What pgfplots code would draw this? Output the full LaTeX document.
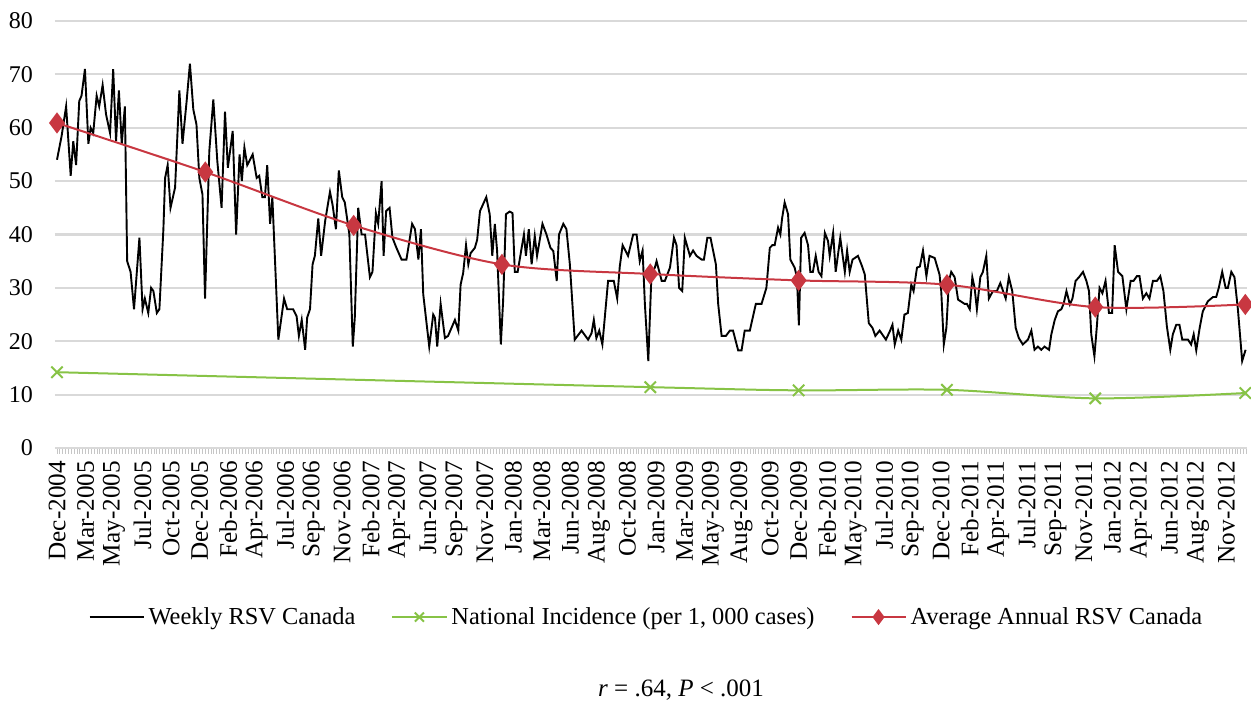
\documentclass[border=0pt]{standalone}
\usepackage{fontspec}
\setmainfont{Liberation Serif}
\usepackage{pgfplots}
\pgfplotsset{compat=1.18}
\definecolor{myred}{RGB}{200,55,65}
\definecolor{mygreen}{RGB}{135,195,70}
\definecolor{gridgray}{RGB}{217,217,217}
\begin{document}
\begin{tikzpicture}
\path[use as bounding box] (-27.5pt,-128.5pt) rectangle (598pt,224pt);
\begin{axis}[
  scale only axis,
  width=596pt, height=213.5pt,
  xmin=-0.7, xmax=417.2,
  ymin=0, ymax=80,
  ytick={0,10,...,80},
  ymajorgrids,
  grid style={draw=gridgray, line width=1.1pt},
  axis x line*=bottom, axis y line*=left,
  x axis line style={draw=gridgray, line width=1.1pt},
  y axis line style={draw=none},
  ytick style={draw=none},
  xtick={0,10,...,410},
  minor xtick={0,1,...,417},
  xtick style={draw=gray!45, line width=0.4pt},
  minor tick style={draw=gray!45, line width=0.4pt},
  tick align=outside,
  major tick length=3pt, minor tick length=3pt,
  xticklabels={Dec-2004,Mar-2005,May-2005,Jul-2005,Oct-2005,Dec-2005,Feb-2006,Apr-2006,Jul-2006,Sep-2006,Nov-2006,Feb-2007,Apr-2007,Jun-2007,Sep-2007,Nov-2007,Jan-2008,Mar-2008,Jun-2008,Aug-2008,Oct-2008,Jan-2009,Mar-2009,May-2009,Aug-2009,Oct-2009,Dec-2009,Feb-2010,May-2010,Jul-2010,Sep-2010,Dec-2010,Feb-2011,Apr-2011,Jul-2011,Sep-2011,Nov-2011,Jan-2012,Apr-2012,Jun-2012,Aug-2012,Nov-2012},
  xticklabel style={rotate=90, anchor=east, font=\fontsize{12.6}{14}\selectfont},
  yticklabel style={font=\fontsize{12}{14}\selectfont, xshift=-4.5pt},
  /pgf/number format/assume math mode=true,
  legend columns=3,
  legend cell align=left,
  legend style={at={(0.497,-0.396)}, anchor=center, draw=none, font=\fontsize{12.2}{14}\selectfont,
    /tikz/every even column/.append style={column sep=16pt}},
  legend image code/.code={\draw[mark repeat=2,mark phase=2,mark size=3.2pt] plot coordinates {(0pt,0pt) (13.5pt,0pt) (27pt,0pt)};},
  clip=false,
]
\addplot[black, line width=0.95pt] coordinates {
(0,54) (1.6,58.4) (3.2,64) (4.8,51) (5.7,57.5) (6.7,53) (7.8,65) (8.6,66) (9.8,71) (11,57) (11.8,60) (12.7,59) (13.9,66) (14.8,64) (16,68) (17.2,62.5) (18.6,59) (19.7,71) (20.7,57.5) (21.7,67) (22.7,57) (23.8,64) (24.6,35) (25.8,33) (27,26) (28.9,39.4) (30,26) (30.8,28) (32,25.3) (33,30) (33.8,29.4) (35,25.3) (35.9,26) (37.3,41) (37.9,50.6) (38.8,53) (39.8,45) (41.4,48.8) (42.9,67) (44,57) (45.4,64.7) (46.6,72) (47.8,63.4) (48.9,60.6) (49.9,50.6) (51,47.5) (51.9,28) (53.4,55.6) (54.8,65.3)
(56.2,53.8) (57.7,45) (58.9,63) (59.9,52.5) (61.6,59.4) (62.8,40) (64,55) (64.8,50) (65.7,56.3) (66.7,53) (68.6,55) (70,50.6) (70.9,51) (72,47) (72.9,47) (73.7,53) (74.7,42) (75.5,47) (77.6,20.3) (79.6,28) (80.7,26) (82.8,26) (84,24.7) (84.8,21) (85.8,24) (87,18.4) (87.7,24.4) (88.7,26) (89.6,34.4) (90.4,36) (91.6,43) (92.6,36) (94,42.5) (95.7,48) (96.6,45.6) (97.8,41) (98.8,52) (100,47) (100.9,46) (102.5,40) (103.7,19) (104.4,24.4) (105.6,45) (106.8,40) (108,40) (109.7,32) (110.6,33) (111.8,44) (112.6,42) (113.8,50) (114.5,36) (115.4,44.4) (116.6,45)
(117.6,39.4) (119,37.5) (120.8,35.3) (122.5,35.3) (124.5,42) (125.5,41) (126.7,35.3) (127.6,41) (128.4,28.8) (130.5,19) (131.9,25) (132.5,24.4) (133.3,19) (134.5,27) (136,20.6) (137.1,21) (138.3,22.5) (139.5,24) (140.7,22) (141.5,30.6) (142.4,32.8) (143.4,38) (144.2,34.4) (145,36.5) (146.5,37.5) (147.3,39) (148.3,44.4) (150.5,47) (151.7,43.8) (152.6,36) (153.5,42) (154.3,36.9) (155.6,19.4) (156.4,27.5) (157.4,43.8) (158.7,44.3) (159.7,44) (160.5,33) (161.5,33) (162.9,37.5) (163.7,40) (164.4,36) (165.4,41) (166.4,34.4) (167.5,39.7) (168.3,36) (170.2,42) (171.6,40) (173,37.5) (174,36.9) (175.2,31.3)
(176,40) (177.5,42) (178.6,41) (179.8,34.4) (181.5,20.3) (183.9,22) (186.2,20.3) (187.4,21.5) (188.2,24) (189.1,20.6) (190.1,22) (191.2,19.4) (193.2,31.3) (195.2,31.3) (196.4,28) (197.3,34) (198.3,38) (200.2,36) (202,40) (203.2,40) (204.3,35) (205.3,37) (206.1,27) (207.3,16.3) (208.4,32.5) (209.6,33.8) (210.2,35) (212,31.3) (213.1,31.3) (214.9,33.8) (216.3,39.4) (217.2,38) (218.1,30) (219.2,29.4) (220.1,39.4) (221.9,36) (223,37) (224.2,36) (226,35.3) (226.8,35.3) (228,39.4) (229.1,39.4) (231,34.4) (231.8,27) (233,21) (234.5,21) (235.9,22)
(237,22) (238.8,18.3) (240,18.3) (241.1,22) (242.9,22) (245,27) (247,27) (248.7,30) (249.9,37.5) (250.8,38) (251.6,38) (252.8,41.3) (253.6,40) (254.2,43) (255.1,46) (256.3,43.8) (257.1,35.3) (258.6,33.8) (259.4,32) (260.1,23) (260.9,39.4) (262.1,40.3) (263.3,38) (264.1,33) (265,33) (266,36) (267,33) (268,32.2) (269.2,40.3) (270.3,38.8) (270.9,36) (272.1,40.3) (273,33) (274.6,39.4) (276.2,33) (277,37) (277.9,33) (278.9,35.3) (280.8,36) (282,34.4) (283.2,32.5) (284.6,23.4) (285.9,22.5) (286.9,21) (288.4,22) (290.6,20.3) (292,21.9) (292.9,23.1) (293.7,19.4) (294.9,22)
(296,20.3) (297.1,25) (298.3,25.3) (299.5,30.6) (300.3,29.4) (301.5,33.8) (302.5,34) (303.6,37) (304.8,32.2) (305.9,36) (307.7,35.6) (309.4,32.5) (310,29.4) (310.9,19.4) (311.8,22.5) (312.7,31.3) (313.5,33) (314.7,32) (315.9,27.8) (318.2,27) (319,27) (320,26) (320.9,32) (321.7,30) (322.5,26) (323.7,32) (324.6,33) (325.8,36) (326.7,28) (328.1,29.4) (329.5,29.4) (330.7,30.9) (332.6,28) (333.7,32) (334.9,29.4) (336.1,22.5) (337.2,20.6) (338.6,19.4) (340.4,20.3) (341.6,22) (342.7,18.4) (343.9,19) (345.1,18.4) (346.2,19) (347.8,18.4) (348.6,21.3) (349.8,24) (350.9,25.6) (352.1,26) (352.9,27) (353.9,29.4) (355.1,26.9)
(356,28) (357.1,31.3) (358.3,32) (359.7,33) (360.9,31.3) (361.8,29.4) (362.6,21.3) (363.7,17.2) (364.6,23.1) (365.5,30) (366.5,29) (367.6,31.3) (368.8,25.3) (369.9,25.3) (370.8,38) (372,33) (373.5,32.2) (374.9,26) (376.4,31.3) (377.4,31.3) (378.6,32.2) (379.5,32.2) (380.7,28) (381.9,29) (383,28) (384.2,31.3) (385.6,31.3) (386.8,32.2) (387.9,29.4) (389.1,22.8) (390.3,18.4) (391.2,21.3) (392.4,23.1) (393.5,23.1) (394.5,20.3) (396.5,20.3) (397.6,19.4) (398.5,21.3) (399.4,18.3) (400.6,22.5) (401.7,25.6) (403.5,27.5) (405.3,28.3) (406.4,28.3) (407.3,30) (408.5,33) (409.7,30) (410.5,30) (411.7,33) (412.8,32) (414,26) (415.5,16.3) (416.7,18.4)
};
\addlegendentry{Weekly RSV Canada}
\addplot[mygreen, line width=1pt, smooth, mark=x, mark size=4pt, mark options={line width=1pt}] coordinates {
(0,14.2) (208,11.4) (260,10.8) (312,10.9) (364,9.3) (416.6,10.3)
};
\addlegendentry{National Incidence (per 1, 000 cases)}
\addplot[myred, line width=1pt, smooth, mark=diamond*, mark size=4.5pt, mark options={fill=myred}] coordinates {
(0,60.9) (52,51.7) (104,41.7) (156,34.4) (208,32.6) (260,31.4) (312,30.6) (364,26.4) (416.6,26.9)
};
\addlegendentry{Average Annual RSV Canada}
\end{axis}
\node[font=\fontsize{12.5}{14}\selectfont] at (313pt,-121pt) {\textit{r} = .64, \textit{P} < .001};
\end{tikzpicture}
\end{document}
